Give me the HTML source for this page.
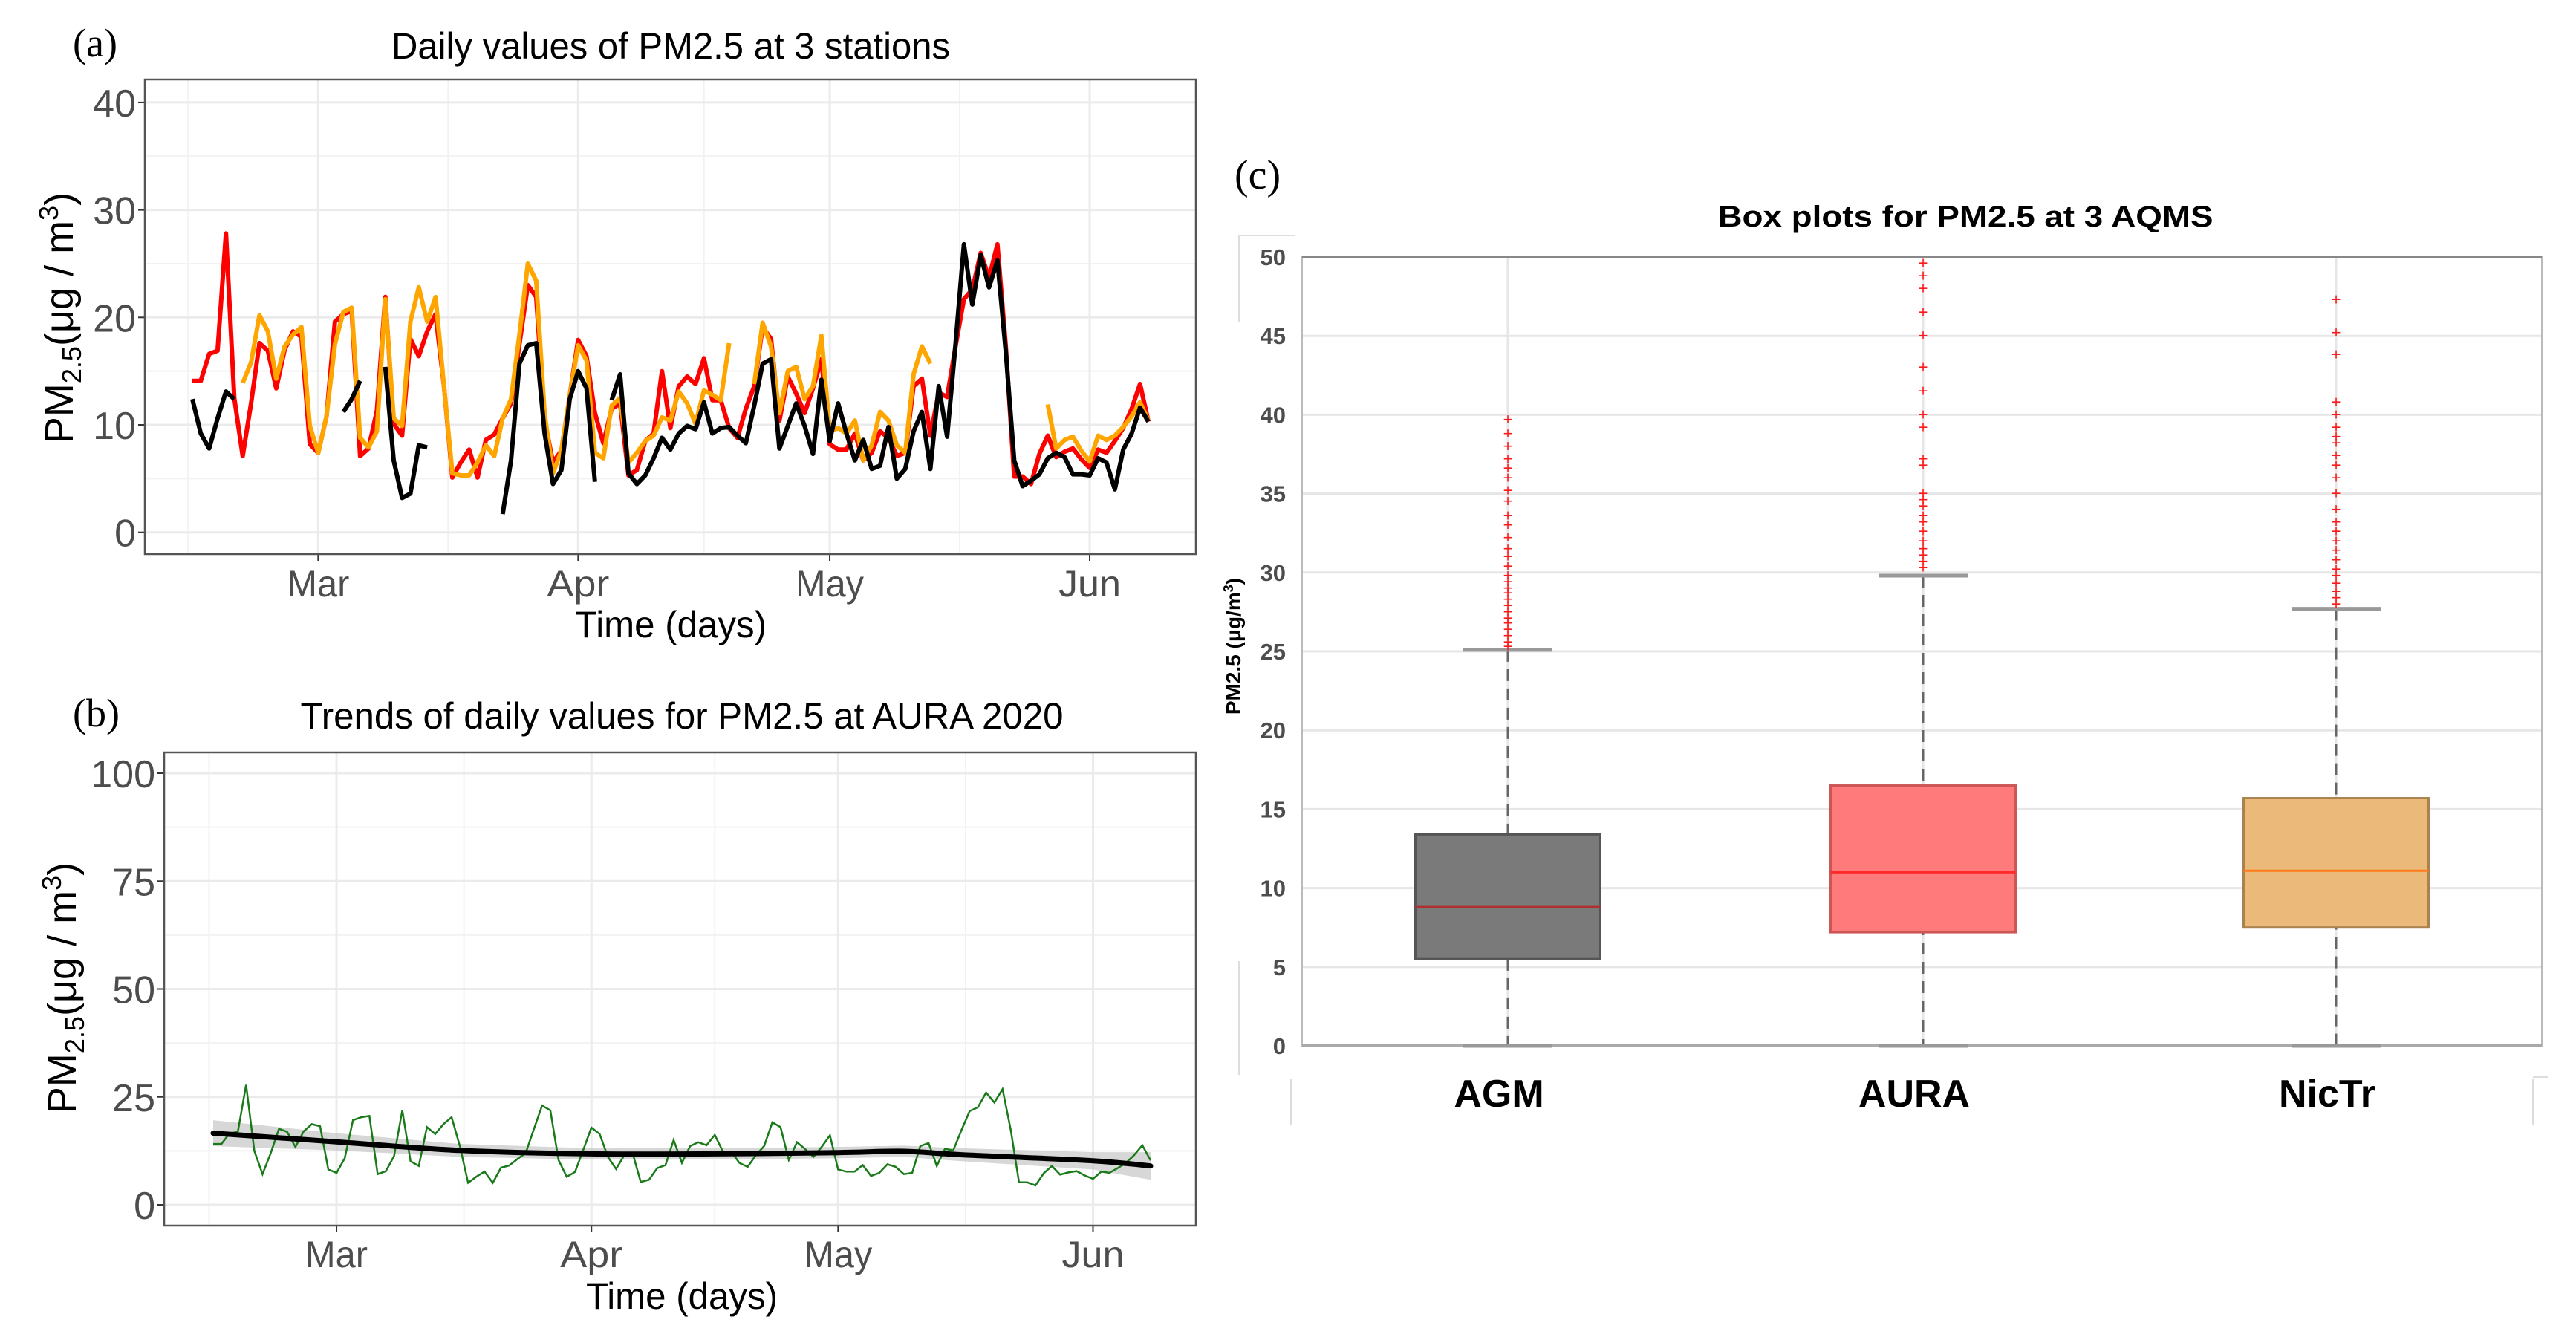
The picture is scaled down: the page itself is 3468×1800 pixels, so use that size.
<!DOCTYPE html>
<html><head><meta charset="utf-8"><title>PM2.5 figure</title>
<style>
html,body{margin:0;padding:0;background:#fff;}
svg{display:block;}
.tk{font-family:"Liberation Sans",sans-serif;fill:#4d4d4d;}
.ttl{font-family:"Liberation Sans",sans-serif;fill:#000;}
.pl{font-family:"Liberation Serif",serif;fill:#000;}
</style></head>
<body>
<svg id="fig" xmlns="http://www.w3.org/2000/svg" width="3468" height="1800" viewBox="0 0 3468 1800">
<rect x="0" y="0" width="3468" height="1800" fill="#fff"/>
<g id="pa"></g>
<g id="pb"></g>
<g id="pc"></g>
</svg>
<script>
// ---- Panel (a) data: daily PM2.5, day 0 = Feb 15, 2020 ----
const auraVals = [14.1,14.1,16.6,16.9,27.8,12.5,7.1,12,17.6,16.9,
13.4,17,18.7,18.2,8.2,7.4,10.8,19.6,20.3,20.6,
7.1,7.8,11.3,21.9,10.1,9,18,16.4,18.7,20.3,
13.6,5.1,6.5,7.7,5.1,8.6,9.1,10.6,
12,17.5,23,21.9,10.4,6.5,7.6,12.7,17.9,16.4,11.1,8.3,
11.5,12,5.3,5.8,8.5,9.2,15,9.7,13.6,14.5,
13.8,16.2,12.3,12.3,9.7,8.8,11.5,13.6,19.1,18,
10.4,14.5,12.9,11.1,13.4,16.1,8.2,7.7,
7.7,9.2,6.7,7.4,9.4,8.8,7.1,7.4,13.6,14.3,9,13,
12.6,17.3,21.7,22.6,26,23.7,26.8,17.3,5.2,5.2,
4.5,7.3,9,7,7.5,7.8,6.8,6,7.7,7.4,8.5,9.7,11.5,13.8,10.3];
const nictrVals = [null,null,null,null,null,null,
13.9,15.8,20.2,18.7,14.3,17.3,18.4,19.1,9.9,7.4,
10.8,17.5,20.5,20.9,8.8,7.9,9.4,21.7,10.6,9.9,
19.6,22.8,19.6,21.9,13.6,5.5,5.3,5.3,6.5,8.1,7.1,10.6,
12.4,18.4,25,23.4,11,5.5,7.6,12.7,17.4,16,7.4,6.9,
11.8,12.5,6.5,7.4,8.5,9,10.7,10.4,13.1,12,
10.1,13.2,12.8,12.3,17.6,
null,null,
13.8,19.5,17.3,11.1,15,15.4,12.4,13.6,18.3,9.4,9.7,
9.2,10.4,6.7,8.1,11.2,10.4,8.1,7.4,14.7,17.3,15.7,
null,null,null,null,null,null,null,null,null,null,null,null,null,
11.9,7.8,8.6,8.9,7.6,6.6,9,8.6,9,9.8,10.8,12.1,10.4];
const agmVals = [12.4,9.2,7.8,10.6,13.1,12.4,
null,null,null,null,null,null,null,null,null,null,null,null,
11.2,12.4,14.1,
null,null,
15.4,6.7,3.2,3.6,8.1,7.9,
null,null,null,null,null,null,null,null,
1.7,6.7,15.7,17.4,17.6,9.2,4.5,5.8,12.4,15,13.4,4.7,
null,
12.3,14.7,5.5,4.5,5.3,6.9,8.8,7.7,9.2,9.9,
9.6,12.1,9.2,9.7,9.8,9,8.3,11.8,15.7,16.1,
7.8,9.9,12,9.9,7.3,14.2,8.5,12,9.2,6.7,
8.6,5.9,6.2,9.8,5,5.9,9.4,11.2,5.9,13.6,
8.9,17.5,26.8,21.2,25.8,22.8,25.3,16.8,6.7,4.3,
4.8,5.4,6.9,7.4,7,5.4,5.4,5.3,6.9,6.5,4,7.7,9.2,11.6,10.3];
const monthLabels = ["Mar","Apr","May","Jun"];
const monthDays = [15,46,76,107];
const aTicks = [0,10,20,30,40];
const bTicks = [0,25,50,75,100];
// ---- Panel (b) smooth trend ----
const trendDays = [0,15,30,46,61,76,84,91,107,114];
const trendVals = [16.6,14.6,12.6,11.8,11.8,12.1,12.4,11.6,10.2,9.0];
const trendBand = [3,2,1.5,1.3,1.3,1.3,1.3,1.5,2,3.2];
// ---- Panel (c) box plots ----
const boxCats = ["AGM","AURA","NicTr"];
const boxQ1 = [5.5,7.2,7.5];
const boxMed = [8.8,11,11.1];
const boxQ3 = [13.4,16.5,15.7];
const boxLo = [0,0,0];
const boxHi = [25.1,29.8,27.7];
const outAGM = [25.3,25.6,26,26.4,26.8,27.1,27.5,27.9,28.3,28.7,29,29.4,29.8,30.4,31,31.5,32.2,33,33.6,34.5,35.2,36,36.6,37.2,38,38.8,39.7];
const outAURA = [30.3,30.7,31.1,31.5,32,32.6,33.2,33.6,34.2,34.6,35,36.8,37.2,39.2,40,41.5,43,45,46.5,48,48.8,49.6];
const outNicTr = [28,28.4,28.8,29.3,29.8,30.2,30.8,31.4,32,32.6,33.2,34,35,36,36.8,37.4,38.2,38.6,39.2,40,40.8,43.8,45.2,47.3];
const cTicks = [0,5,10,15,20,25,30,35,40,45,50];

const NS="http://www.w3.org/2000/svg";
function mk(parent,tag,attrs,text){const e=document.createElementNS(NS,tag);for(const k in attrs)e.setAttribute(k,attrs[k]);if(text!==undefined)e.textContent=text;parent.appendChild(e);return e;}

// ================= Panel A =================
(function(){
const g=document.getElementById('pa');
const L=195,R=1610,T=107,B=746;
const xA=d=>259+11.29*d, yA=v=>716.7-14.47*v;
[5,15,25,35].forEach(v=>{const l=mk(g,'line',{x1:L,x2:R,y1:yA(v),y2:yA(v),stroke:'#f2f2f2','stroke-width':2});

});
[-0.5,30.5,61,91.5].forEach(d=>{const l=mk(g,'line',{x1:xA(d),x2:xA(d),y1:T,y2:B,stroke:'#f2f2f2','stroke-width':2});

});
aTicks.forEach(v=>{const l=mk(g,'line',{x1:L,x2:R,y1:yA(v),y2:yA(v),stroke:'#ebebeb','stroke-width':3});


const t=mk(g,'line',{x1:L-9,x2:L,y1:yA(v),y2:yA(v),stroke:'#333','stroke-width':2});


const tx=mk(g,'text',{x:L-12,y:yA(v)+19,'text-anchor':'end','font-size':52,class:'tk'},String(v));

});
monthDays.forEach((d,i)=>{const l=mk(g,'line',{x1:xA(d),x2:xA(d),y1:T,y2:B,stroke:'#ebebeb','stroke-width':3});


const t=mk(g,'line',{x1:xA(d),x2:xA(d),y1:B,y2:B+9,stroke:'#333','stroke-width':2});


const tx=mk(g,'text',{x:xA(d),y:803,'text-anchor':'middle','font-size':50,class:'tk',textLength:monthLabels[i]==='May'?92:84,lengthAdjust:'spacingAndGlyphs'},monthLabels[i]);

});
function series(vals,color){let d='';let pen=false;vals.forEach((v,i)=>{if(v===null){pen=false;return;}d+=(pen?'L':'M')+xA(i).toFixed(1)+','+yA(v).toFixed(1);pen=true;});
return mk(g,'path',{d:d,fill:'none',stroke:color,'stroke-width':6,'stroke-linejoin':'round'});}
const pr=series(auraVals,'#ff0000');


const po=series(nictrVals,'#ffa500');


const pk=series(agmVals,'#000000');


const box=mk(g,'rect',{x:L,y:T,width:R-L,height:B-T,fill:'none',stroke:'#555','stroke-width':2.5});


const ti=mk(g,'text',{x:903,y:79,'text-anchor':'middle','font-size':50,class:'ttl',textLength:752,lengthAdjust:'spacingAndGlyphs'},'Daily values of PM2.5 at 3 stations');


const xt=mk(g,'text',{x:903,y:858,'text-anchor':'middle','font-size':50,class:'ttl',textLength:258,lengthAdjust:'spacingAndGlyphs'},'Time (days)');


const yt=mk(g,'text',{transform:'translate(98,428) rotate(-90)','text-anchor':'middle','font-size':54,class:'ttl'});


yt.innerHTML='PM<tspan font-size="36" dy="11">2.5</tspan><tspan dy="-11">(μg / m</tspan><tspan font-size="36" dy="-20">3</tspan><tspan dy="20">)</tspan>';
const lb=mk(g,'text',{x:98,y:76,'font-size':54,class:'pl'},'(a)');


})();

// ================= Panel B =================
(function(){
const g=document.getElementById('pb');
const L=221,R=1610,T=1013,B=1650;
const xB=d=>287+11.07*d, yB=v=>1622-5.81*v;
[12.5,37.5,62.5,87.5].forEach(v=>{const l=mk(g,'line',{x1:L,x2:R,y1:yB(v),y2:yB(v),stroke:'#f2f2f2','stroke-width':2});

});
[-0.5,30.5,61,91.5].forEach(d=>{const l=mk(g,'line',{x1:xB(d),x2:xB(d),y1:T,y2:B,stroke:'#f2f2f2','stroke-width':2});

});
bTicks.forEach(v=>{const l=mk(g,'line',{x1:L,x2:R,y1:yB(v),y2:yB(v),stroke:'#ebebeb','stroke-width':3});


const t=mk(g,'line',{x1:L-9,x2:L,y1:yB(v),y2:yB(v),stroke:'#333','stroke-width':2});


const tx=mk(g,'text',{x:L-12,y:yB(v)+19,'text-anchor':'end','font-size':52,class:'tk'},String(v));

});
monthDays.forEach((d,i)=>{const l=mk(g,'line',{x1:xB(d),x2:xB(d),y1:T,y2:B,stroke:'#ebebeb','stroke-width':3});


const t=mk(g,'line',{x1:xB(d),x2:xB(d),y1:B,y2:B+9,stroke:'#333','stroke-width':2});


const tx=mk(g,'text',{x:xB(d),y:1706,'text-anchor':'middle','font-size':50,class:'tk',textLength:monthLabels[i]==='May'?92:84,lengthAdjust:'spacingAndGlyphs'},monthLabels[i]);

});
let up='',dn='';
trendDays.forEach((d,i)=>{up+=(i?'L':'M')+xB(d).toFixed(1)+','+yB(trendVals[i]+trendBand[i]).toFixed(1);});
for(let i=trendDays.length-1;i>=0;i--){dn+='L'+xB(trendDays[i]).toFixed(1)+','+yB(trendVals[i]-trendBand[i]).toFixed(1);}
const band=mk(g,'path',{d:up+dn+'Z',fill:'#bdbdbd','fill-opacity':0.6});


let dg='';auraVals.forEach((v,i)=>{dg+=(i?'L':'M')+xB(i).toFixed(1)+','+yB(v).toFixed(1);});
const gp=mk(g,'path',{d:dg,fill:'none',stroke:'#1a7a1a','stroke-width':2.5});


const pts=trendDays.map((d,i)=>[xB(d),yB(trendVals[i])]);
let dt='M'+pts[0][0]+','+pts[0][1];
for(let i=0;i<pts.length-1;i++){const p0=pts[Math.max(0,i-1)],p1=pts[i],p2=pts[i+1],p3=pts[Math.min(pts.length-1,i+2)];
dt+='C'+(p1[0]+(p2[0]-p0[0])/6).toFixed(1)+','+(p1[1]+(p2[1]-p0[1])/6).toFixed(1)+' '+(p2[0]-(p3[0]-p1[0])/6).toFixed(1)+','+(p2[1]-(p3[1]-p1[1])/6).toFixed(1)+' '+p2[0].toFixed(1)+','+p2[1].toFixed(1);}
const tp=mk(g,'path',{d:dt,fill:'none',stroke:'#000','stroke-width':7,'stroke-linecap':'round'});


const box=mk(g,'rect',{x:L,y:T,width:R-L,height:B-T,fill:'none',stroke:'#555','stroke-width':2.5});


const ti=mk(g,'text',{x:918,y:981,'text-anchor':'middle','font-size':50,class:'ttl',textLength:1027,lengthAdjust:'spacingAndGlyphs'},'Trends of daily values for PM2.5 at AURA 2020');


const xt=mk(g,'text',{x:918,y:1762,'text-anchor':'middle','font-size':50,class:'ttl',textLength:258,lengthAdjust:'spacingAndGlyphs'},'Time (days)');


const yt=mk(g,'text',{transform:'translate(102,1330) rotate(-90)','text-anchor':'middle','font-size':54,class:'ttl'});


yt.innerHTML='PM<tspan font-size="36" dy="11">2.5</tspan><tspan dy="-11">(μg / m</tspan><tspan font-size="36" dy="-20">3</tspan><tspan dy="20">)</tspan>';
const lb=mk(g,'text',{x:98,y:978,'font-size':54,class:'pl'},'(b)');


})();

// ================= Panel C =================
(function(){
const g=document.getElementById('pc');
const L=1753,R=3422,T=346,B=1408;
const yC=v=>1408-21.24*v;
const xC=[2030,2589,3145];
const fills=['#7a7a7a','#ff7b7b','#ebba7a'];
const strokes=['#555','#c55','#a9824f'];
const meds=['#b03030','#ff2a2a','#ff7a1a'];
const outs=[outAGM,outAURA,outNicTr];
[[1668,317,1668,434],[1668,317,1744,317],[1668,1294,1668,1447],[1738,1452,1738,1515],[3410,1452,3410,1515],[3410,1450,3430,1450]].forEach(s=>{const l=mk(g,'line',{x1:s[0],y1:s[1],x2:s[2],y2:s[3],stroke:'#ddd','stroke-width':2});

});
cTicks.forEach(v=>{const l=mk(g,'line',{x1:L,x2:R,y1:yC(v),y2:yC(v),stroke:'#e6e6e6','stroke-width':3});


const tx=mk(g,'text',{x:1731,y:yC(v)+11,'text-anchor':'end','font-size':31,'font-weight':'bold',class:'tk',fill:'#333'},String(v));

});
xC.forEach(x=>{const l=mk(g,'line',{x1:x,x2:x,y1:T,y2:B,stroke:'#e6e6e6','stroke-width':3});

});
const fr=mk(g,'rect',{x:L,y:T,width:R-L,height:B-T,fill:'none',stroke:'#bbb','stroke-width':2});


const tl=mk(g,'line',{x1:L,x2:R,y1:T,y2:T,stroke:'#888','stroke-width':4});


const bl=mk(g,'line',{x1:L,x2:R,y1:B,y2:B,stroke:'#aaa','stroke-width':4});


boxCats.forEach((c,i)=>{const x=xC[i],w=249,cw=120;
const wh=mk(g,'line',{x1:x,x2:x,y1:yC(boxHi[i]),y2:yC(boxLo[i]),stroke:'#666','stroke-width':3,'stroke-dasharray':'16,10'});


const cu=mk(g,'line',{x1:x-cw/2,x2:x+cw/2,y1:yC(boxHi[i]),y2:yC(boxHi[i]),stroke:'#999','stroke-width':5});


const cl=mk(g,'line',{x1:x-cw/2,x2:x+cw/2,y1:yC(boxLo[i]),y2:yC(boxLo[i]),stroke:'#999','stroke-width':5});


const r=mk(g,'rect',{x:x-w/2,y:yC(boxQ3[i]),width:w,height:yC(boxQ1[i])-yC(boxQ3[i]),fill:fills[i],stroke:strokes[i],'stroke-width':3});


const m=mk(g,'line',{x1:x-w/2,x2:x+w/2,y1:yC(boxMed[i]),y2:yC(boxMed[i]),stroke:meds[i],'stroke-width':3});


outs[i].forEach(v=>{const o=mk(g,'text',{x:x,y:yC(v)+7,'text-anchor':'middle','font-size':22,fill:'#ff1a1a','font-family':'Liberation Sans, sans-serif'},'+');

});
const tx=mk(g,'text',{x:x-12,y:1490,'text-anchor':'middle','font-size':52,'font-weight':'bold',class:'ttl',fill:'#111'},c);

});
const ti=mk(g,'text',{x:2646,y:305,'text-anchor':'middle','font-size':40,'font-weight':'bold',class:'ttl',fill:'#222',textLength:667,lengthAdjust:'spacingAndGlyphs'},'Box plots for PM2.5 at 3 AQMS');


const yt=mk(g,'text',{transform:'translate(1670,870) rotate(-90)','text-anchor':'middle','font-size':28,'font-weight':'bold',class:'ttl',fill:'#222'});


yt.innerHTML='PM2.5 (μg/m<tspan font-size="18" dy="-10">3</tspan><tspan dy="10">)</tspan>';
const lb=mk(g,'text',{x:1662,y:254,'font-size':56,class:'pl'},'(c)');


})();
</script>
</body></html>
